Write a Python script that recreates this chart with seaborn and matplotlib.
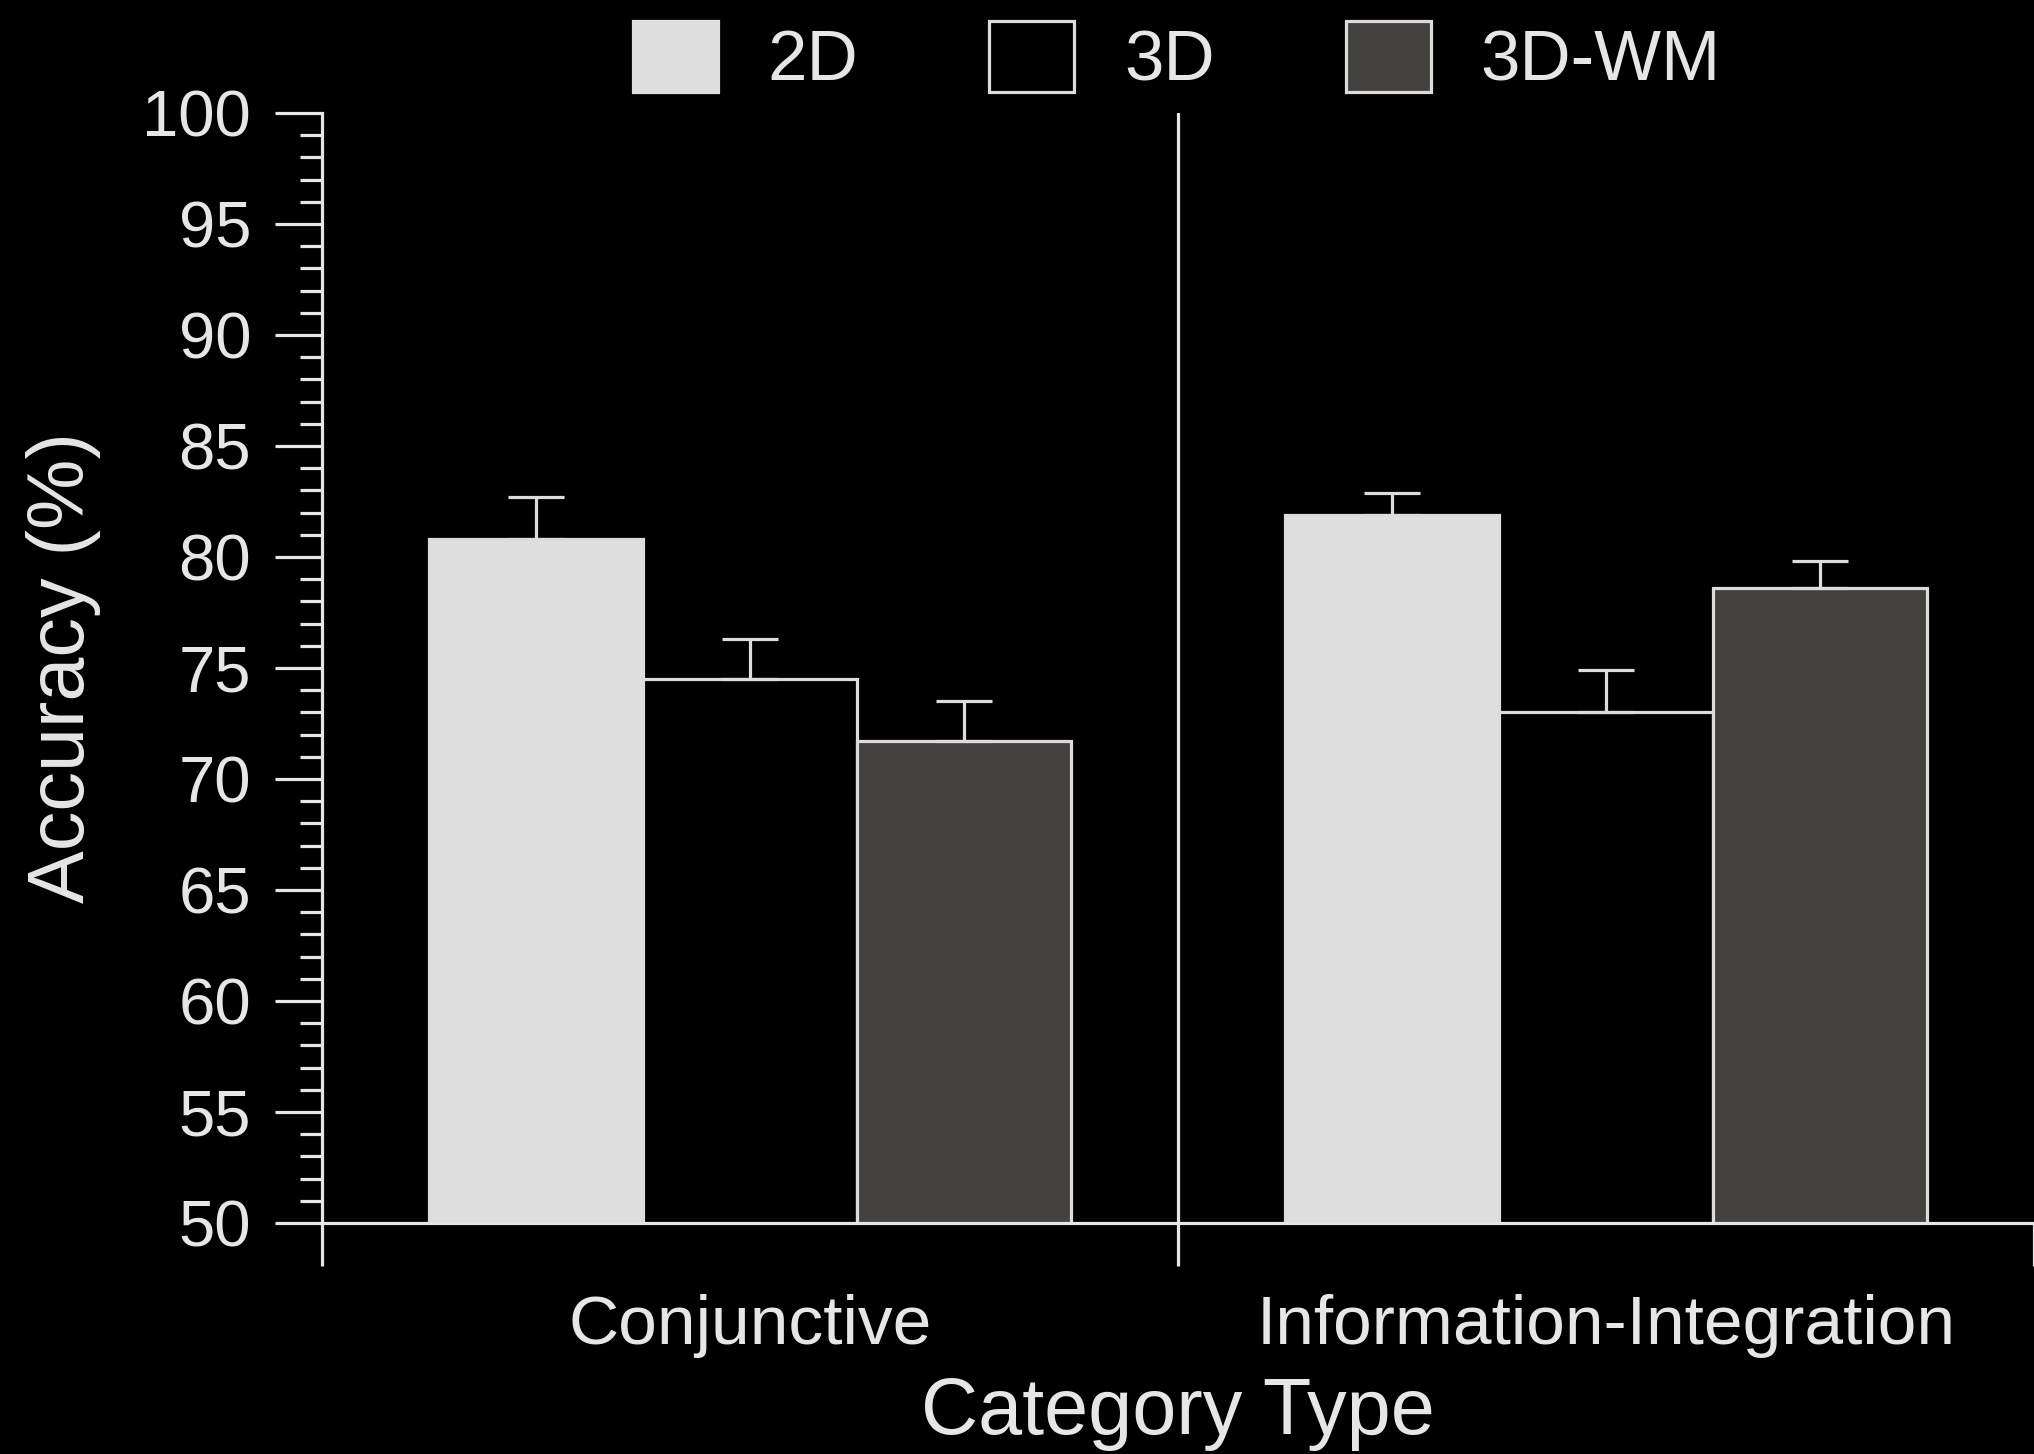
import matplotlib
matplotlib.use("Agg")
import matplotlib.pyplot as plt
from matplotlib.ticker import MultipleLocator
from matplotlib.patches import Patch
import pandas as pd
import seaborn as sns

# Mean accuracy (%) and standard errors per category type and condition
categories = ["Conjunctive", "Information-Integration"]
conditions = ["2D", "3D", "3D-WM"]
acc_2d = [80.8, 81.9]
acc_3d = [74.5, 73.0]
acc_3dwm = [71.7, 78.6]
sem_2d = [1.9, 1.0]
sem_3d = [1.8, 1.9]
sem_3dwm = [1.8, 1.2]

fill_colors = {"2D": "#dedfde", "3D": "#000000", "3D-WM": "#43423e"}
fg = "#e6e6e6"
edge = "#dcdcdc"

sns.set_theme(style="ticks")
plt.rcParams["font.family"] = ["Liberation Sans", "DejaVu Sans"]

rows = []
for cond, means, sems in zip(conditions, [acc_2d, acc_3d, acc_3dwm], [sem_2d, sem_3d, sem_3dwm]):
    for cat, m, s in zip(categories, means, sems):
        rows.append({"Category": cat, "Condition": cond, "Accuracy": m, "SEM": s})
df = pd.DataFrame(rows)

fig = plt.figure(figsize=(20.34, 14.54), dpi=100, facecolor="black")
ax = fig.add_axes([0.1583, 0.1589, 0.8417, 0.7634])
ax.set_facecolor("black")

sns.barplot(data=df, x="Category", y="Accuracy", hue="Condition",
            order=categories, hue_order=conditions, palette=fill_colors,
            saturation=1, width=0.75, edgecolor=edge, linewidth=2.3,
            errorbar=None, legend=False, ax=ax)

# One-sided (upper) error bars on every bar
for cond, container in zip(conditions, ax.containers):
    sub = df[df["Condition"] == cond].set_index("Category").loc[categories]
    xs = [p.get_x() + p.get_width() / 2 for p in container.patches]
    ax.errorbar(xs, sub["Accuracy"].values,
                yerr=[[0] * len(xs), sub["SEM"].values],
                fmt="none", ecolor=edge, elinewidth=2.3, capsize=20,
                capthick=2.3, zorder=5)

ax.set_xlim(-0.5, 1.5)
ax.set_ylim(50, 100)

# Axis styling
for side in ["top", "right"]:
    ax.spines[side].set_visible(False)
for side in ["left", "bottom"]:
    ax.spines[side].set_color(fg)
    ax.spines[side].set_linewidth(2.3)

ax.yaxis.set_major_locator(MultipleLocator(5))
ax.yaxis.set_minor_locator(MultipleLocator(1))
ax.tick_params(axis="y", which="major", length=34, width=2.3, color=fg,
               labelcolor=fg, labelsize=47, pad=17, direction="out")
ax.tick_params(axis="y", which="minor", length=16, width=2.3, color=fg,
               direction="out")

ax.set_xticks([-0.5, 0.5, 1.5])
ax.set_xticklabels(["", "", ""])
ax.set_xticks([0, 1], minor=True)
ax.set_xticklabels(categories, minor=True)
ax.tick_params(axis="x", which="major", length=31, width=2.3, color=fg,
               direction="out")
ax.tick_params(axis="x", which="minor", length=0, labelcolor=fg,
               labelsize=50, pad=51)

# Divider between the two category types
ax.axvline(0.5, color=fg, lw=2.3, zorder=6)

ax.set_xlabel("Category Type", color=fg, fontsize=57, labelpad=13)
ax.set_ylabel("Accuracy (%)", color=fg, fontsize=57, labelpad=30)

handles = [Patch(facecolor=fill_colors[c], edgecolor=(fill_colors[c] if c == "2D" else edge),
                 linewidth=2.3, label=c) for c in conditions]
fig.legend(handles=handles, loc="center", bbox_to_anchor=(0.5785, 0.960),
           ncol=3, frameon=False, fontsize=51, labelcolor=fg,
           handlelength=1.2, handleheight=1.17, handletextpad=0.7,
           columnspacing=1.85, borderaxespad=0)

fig.savefig("out.png", dpi=100, facecolor="black")
